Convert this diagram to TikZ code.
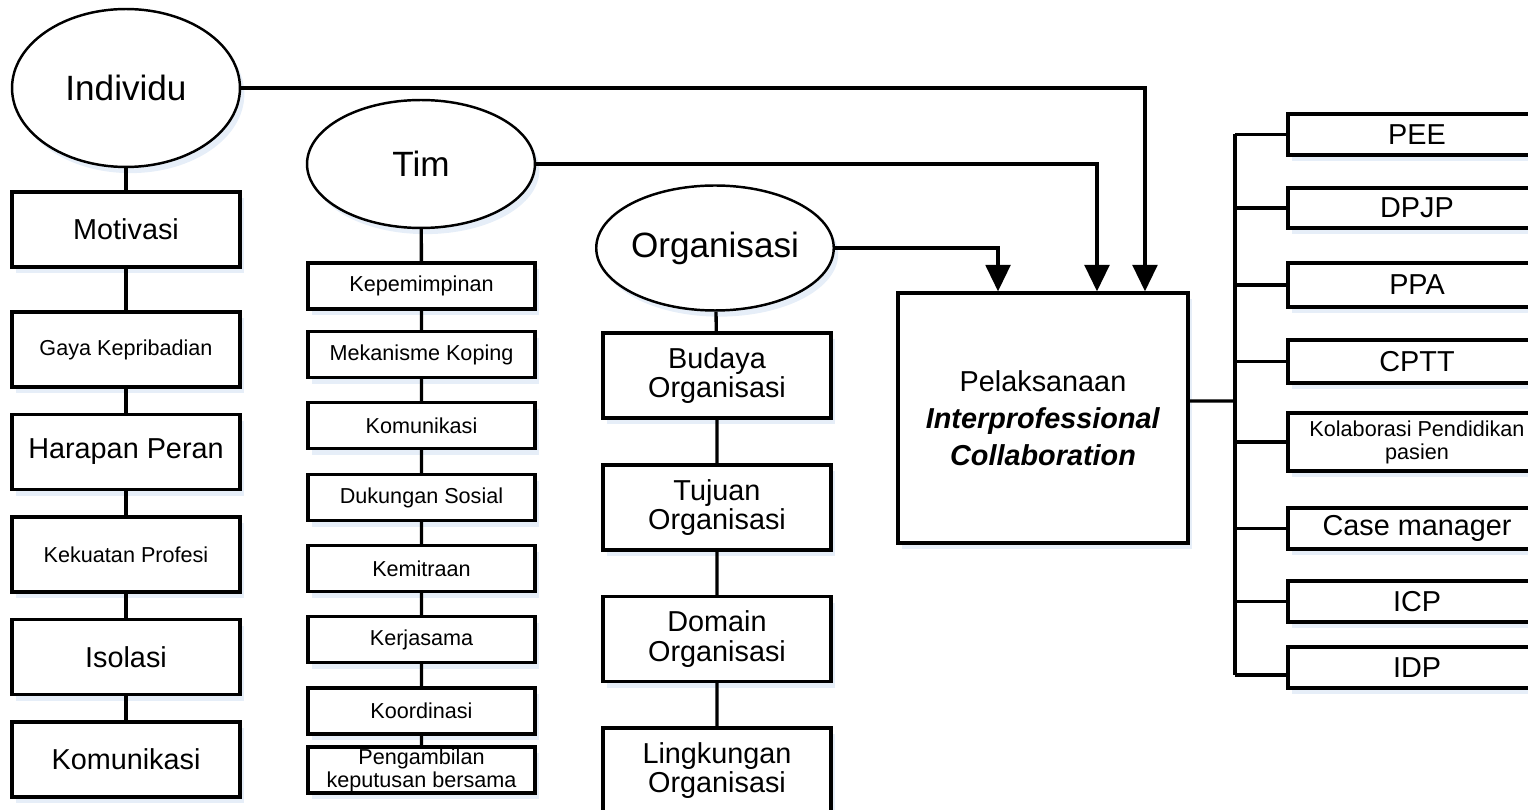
\documentclass[tikz,border=0pt]{standalone}
\usepackage{fontspec}
\setmainfont{Liberation Sans}
\usepackage{tikz}
\usetikzlibrary{arrows.meta,shapes.geometric,positioning,calc,shadows}

\definecolor{glow}{RGB}{230,238,248}
\newcommand{\lbl}{\fontsize{16.4}{16.8}\selectfont}
\newcommand{\sml}{\fontsize{12.3}{13}\selectfont}

\tikzset{
  base/.style={draw, line width=1.9pt, fill=white, align=center, inner sep=1pt,
    drop shadow={fill=glow, opacity=1, shadow xshift=2.5pt, shadow yshift=-3.5pt}},
  oval/.style={ellipse, draw, line width=1.4pt, fill=white, inner sep=0pt,
    font=\fontsize{20}{24}\selectfont,
    drop shadow={fill=glow, opacity=1, shadow xshift=2.5pt, shadow yshift=-3.5pt}},
  link/.style={line width=1.9pt},
  arrow/.style={link, -{Triangle[length=15pt,width=14pt]}}
}

\begin{document}
\begin{tikzpicture}[x=0.02cm, y=-0.02cm]
\clip (0,0) rectangle (1528,810);

% three groups
\node[oval, minimum width=4.56cm, minimum height=3.16cm] (individu) at (126,88) {Individu};
\node[oval, minimum width=4.56cm, minimum height=2.56cm] (tim) at (421,164) {Tim};
\node[oval, minimum width=4.48cm, minimum height=2.5cm] (organisasi) at (715,248) {Organisasi};

% individu column
\foreach \n/\y/\f/\t in {motivasi/229.5/\lbl/Motivasi, gaya/349.5/\sml/Gaya Kepribadian,
    harapan/452/\lbl/Harapan Peran, kekuatan/554.5/\sml/Kekuatan Profesi,
    isolasi/657/\lbl/Isolasi, komunikasi/759.5/\lbl/Komunikasi} {
  \node[base, font=\f, minimum width=4.56cm, minimum height=1.5cm] (\n) at (126,\y) {\t};
}
\draw[link] (individu) -- (motivasi) -- (gaya) -- (harapan) -- (kekuatan) -- (isolasi) -- (komunikasi);

% tim column
\foreach \n/\y/\t in {kepemimpinan/286/Kepemimpinan, koping/354.5/Mekanisme Koping,
    komtim/425.5/Komunikasi, dukungan/497.5/Dukungan Sosial, kemitraan/568.5/Kemitraan,
    kerjasama/639.5/Kerjasama, koordinasi/711/Koordinasi} {
  \node[base, font=\sml, minimum width=4.54cm, minimum height=0.92cm] (\n) at (421.5,\y) {\t};
}
\node[base, font=\sml, inner sep=0pt, minimum width=4.54cm, minimum height=0.92cm] (keputusan) at (421.5,770) {Pengambilan\\keputusan bersama};
\draw[link] (tim) -- (kepemimpinan) -- (koping) -- (komtim) -- (dukungan) -- (kemitraan) -- (kerjasama) -- (koordinasi) -- (keputusan);

% organisasi column
\foreach \n/\y/\t in {budaya/375.5/Budaya, tujuan/507.5/Tujuan, domain/639/Domain, lingkungan/770.5/Lingkungan} {
  \node[base, font=\lbl, minimum width=4.56cm, minimum height=1.7cm] (\n) at (717,\y) {\t\\Organisasi};
}
\draw[link] (organisasi) -- (budaya) -- (tujuan) -- (domain) -- (lingkungan);

% pelaksanaan
\node[base, font=\fontsize{16.4}{21}\selectfont, minimum width=5.8cm, minimum height=5cm] (ipc) at (1043,418)
  {Pelaksanaan\\\textbf{\textit{Interprofessional}}\\\textbf{\textit{Collaboration}}};
\draw[arrow] (organisasi.east) -| ([xshift=-0.9cm]ipc.north);
\draw[arrow] (tim.east) -| ([xshift=1.08cm]ipc.north);
\draw[arrow] (individu.east) -| ([xshift=2.04cm]ipc.north);

% bentuk kolaborasi
\foreach \n/\y/\h/\f/\t in {pee/134.5/0.82/\lbl/PEE, dpjp/208/0.8/\lbl/DPJP, ppa/285/0.88/\lbl/PPA,
    cptt/361.5/0.86/\lbl/CPTT, kolab/442/1.16/\sml/Kolaborasi Pendidikan\\pasien,
    casemgr/528.5/0.82/\lbl/Case manager, icp/601.5/0.82/\lbl/ICP, idp/667.5/0.82/\lbl/IDP} {
  \node[base, font=\f, minimum width=5.16cm, minimum height=\h cm] (\n) at (1417,\y) {\t};
}
\coordinate (bus) at (1235,401);
\draw[link] ([yshift=0.34cm]ipc.east) -- (bus);
\draw[link] (bus |- pee.west) -- ($(bus |- idp.west)+(0,7.5)$);
\foreach \n in {pee,dpjp,ppa,cptt,kolab,casemgr,icp} {
  \draw[link] (bus |- \n.west) -- (\n.west);
}
\draw[link] ($(bus |- idp.west)+(0,7.5)$) -- ($(idp.west)+(0,7.5)$);
\end{tikzpicture}
\end{document}
